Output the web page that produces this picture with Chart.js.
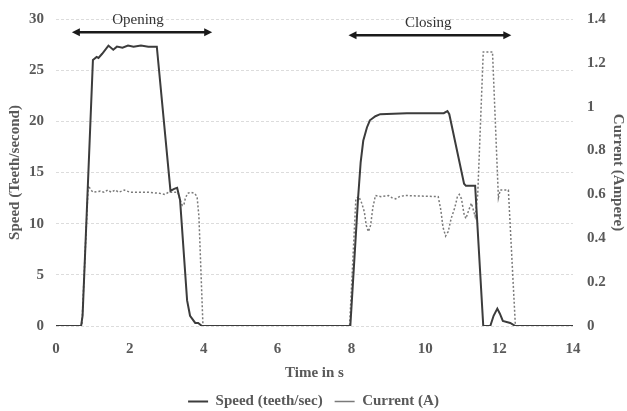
<!DOCTYPE html>
<html>
<head>
<meta charset="utf-8">
<script src="https://cdn.jsdelivr.net/npm/chart.js@4.4.0/dist/chart.umd.min.js"></script>
<style>
  html, body { margin: 0; padding: 0; background: #ffffff; }
  #wrap { width: 627px; height: 411px; }
</style>
</head>
<body>
<div id="wrap"><canvas id="motorChart" width="627" height="411"></canvas></div>
<script>
    'use strict';

    // Speed trace (teeth/sec)
    var speedTime = [0, 0.68, 0.72, 1.0, 1.1, 1.15, 1.25, 1.42, 1.55, 1.65, 1.8, 1.95, 2.1, 2.3, 2.5, 2.73,
        3.1, 3.2, 3.28, 3.36, 3.55, 3.63, 3.77, 3.85, 3.95, 7.97, 8.18, 8.25, 8.32, 8.42, 8.5, 8.65, 8.78,
        9.5, 10.5, 10.6, 10.65, 11.05, 11.1, 11.35, 11.57, 11.76, 11.85, 11.95, 12.02, 12.1, 12.3, 12.44, 14];
    var speedValues = [0, 0, 1, 26, 26.3, 26.2, 26.6, 27.4, 27.0, 27.3, 27.2, 27.4, 27.3, 27.4, 27.3, 27.3,
        13.2, 13.4, 13.5, 12.3, 2.5, 1.0, 0.3, 0.3, 0, 0, 12.5, 16, 18.1, 19.4, 20.1, 20.5, 20.7,
        20.8, 20.8, 21.0, 20.7, 13.9, 13.7, 13.7, 0, 0, 1, 1.7, 1.2, 0.5, 0.3, 0, 0];

    // Current trace (A)
    var currentTime = [0, 0.7, 0.87, 0.95, 1.0, 1.2, 1.3, 1.4, 1.5, 1.6, 1.7, 1.85, 2.0, 2.5, 2.8, 2.95,
        3.05, 3.3, 3.36, 3.42, 3.46, 3.5, 3.56, 3.65, 3.75, 3.82, 3.87, 3.98, 7.95, 8.12, 8.2, 8.28, 8.35,
        8.4, 8.46, 8.52, 8.58, 8.65, 8.8, 9.0, 9.1, 9.2, 9.3, 9.45, 10.35, 10.42, 10.48, 10.55, 10.62,
        10.7, 10.8, 10.87, 10.92, 10.98, 11.05, 11.1, 11.18, 11.25, 11.3, 11.35, 11.42, 11.57, 11.82,
        11.98, 12.03, 12.25, 12.44, 14];
    var currentValues = [0, 0, 0.64, 0.62, 0.61, 0.615, 0.61, 0.62, 0.61, 0.62, 0.61, 0.62, 0.61, 0.61, 0.605, 0.6,
        0.61, 0.61, 0.575, 0.55, 0.55, 0.58, 0.605, 0.61, 0.605, 0.59, 0.5, 0, 0, 0.58, 0.59, 0.56, 0.52,
        0.46, 0.43, 0.46, 0.54, 0.595, 0.59, 0.595, 0.585, 0.58, 0.59, 0.595, 0.59, 0.53, 0.45, 0.41, 0.43,
        0.49, 0.54, 0.59, 0.6, 0.58, 0.51, 0.49, 0.53, 0.56, 0.53, 0.5, 0.6, 1.25, 1.25,
        0.585, 0.62, 0.62, 0, 0];

    // Phase annotations: label, arrow start/end (s), arrow level and label position (speed units)
    var phaseLabels = ['Opening', 'Closing'];
    var phaseStart = [0.43, 7.92];
    var phaseEnd = [4.23, 12.33];
    var phaseArrowLevel = [28.7, 28.4];
    var phaseLabelX = [2.22, 10.08];
    var phaseLabelY = [29.9, 29.6];

    var greyText = '#595959';
    var serif = '"Liberation Serif", "Times New Roman", serif';

    function toPoints(xs, ys) {
        return xs.map(function (x, i) { return {x: x, y: ys[i]}; });
    }

    // Double-headed arrows with phase names
    var phaseArrows = {
        id: 'phaseArrows',
        afterDatasetsDraw: function (chart) {
            var ctx = chart.ctx;
            var xs = chart.scales.x;
            var ys = chart.scales.y;
            ctx.save();
            phaseLabels.forEach(function (name, i) {
                var x1 = xs.getPixelForValue(phaseStart[i]);
                var x2 = xs.getPixelForValue(phaseEnd[i]);
                var y = ys.getPixelForValue(phaseArrowLevel[i]);
                var head = 8;
                ctx.strokeStyle = '#1a1a1a';
                ctx.fillStyle = '#1a1a1a';
                ctx.lineWidth = 2.5;
                ctx.beginPath();
                ctx.moveTo(x1 + head - 2, y);
                ctx.lineTo(x2 - head + 2, y);
                ctx.stroke();
                ctx.beginPath();
                ctx.moveTo(x1, y);
                ctx.lineTo(x1 + head, y - 4);
                ctx.lineTo(x1 + head, y + 4);
                ctx.closePath();
                ctx.fill();
                ctx.beginPath();
                ctx.moveTo(x2, y);
                ctx.lineTo(x2 - head, y - 4);
                ctx.lineTo(x2 - head, y + 4);
                ctx.closePath();
                ctx.fill();

                ctx.font = '15px ' + serif;
                ctx.fillStyle = '#333333';
                ctx.textAlign = 'center';
                ctx.textBaseline = 'middle';
                ctx.fillText(name, xs.getPixelForValue(phaseLabelX[i]), ys.getPixelForValue(phaseLabelY[i]));
            });
            ctx.restore();
        }
    };

    var boldFont = {family: serif, size: 15, weight: 'bold'};

    // fixed widths for the value axes, and no extra room above the top tick
    function fitSide(width) {
        return function (scale) {
            scale.width = width;
            scale.paddingTop = 0;
        };
    }

    var chart = new Chart(document.getElementById('motorChart'), {
        type: 'line',
        data: {
            datasets: [{
                label: 'Speed (teeth/sec)',
                data: toPoints(speedTime, speedValues),
                yAxisID: 'y',
                borderColor: '#3c3c3c',
                backgroundColor: '#3c3c3c',
                borderWidth: 2,
                pointRadius: 0,
                tension: 0
            }, {
                label: 'Current (A)',
                data: toPoints(currentTime, currentValues),
                yAxisID: 'y1',
                borderColor: '#7a7a7a',
                backgroundColor: '#7a7a7a',
                borderWidth: 1.5,
                borderDash: [2, 2],
                pointRadius: 0,
                tension: 0
            }]
        },
        options: {
            responsive: false,
            animation: false,
            layout: {padding: {top: 19, left: 0, right: 0, bottom: -8}},
            scales: {
                x: {
                    type: 'linear',
                    min: 0,
                    max: 14,
                    afterFit: function (scale) { scale.height = 56; },
                    ticks: {stepSize: 2, padding: 14, color: greyText, font: boldFont},
                    grid: {display: false, drawTicks: false},
                    border: {display: false},
                    title: {display: true, text: 'Time in s', color: greyText, padding: {top: 0, bottom: 0}, font: boldFont}
                },
                y: {
                    position: 'left',
                    min: 0,
                    max: 30,
                    afterFit: fitSide(56),
                    ticks: {stepSize: 5, padding: 12, color: greyText, font: boldFont},
                    grid: {color: '#dcdcdc', drawTicks: false},
                    border: {display: false, dash: [3, 2]},
                    title: {display: true, text: 'Speed (Teeth/second)', color: greyText, padding: {top: 6, bottom: 0}, font: boldFont}
                },
                y1: {
                    position: 'right',
                    min: 0,
                    max: 1.4,
                    afterFit: fitSide(54),
                    ticks: {stepSize: 0.2, padding: 14, color: greyText, font: boldFont,
                        callback: function (v) { return Math.round(v * 10) / 10; }},
                    grid: {display: false, drawTicks: false},
                    border: {display: false},
                    title: {display: true, text: 'Current (Ampere)', color: greyText, padding: {top: 0, bottom: 2}, font: boldFont}
                }
            },
            plugins: {
                legend: {
                    position: 'bottom',
                    labels: {
                        usePointStyle: true,
                        pointStyle: 'line',
                        pointStyleWidth: 20,
                        padding: 12,
                        color: greyText,
                        font: boldFont
                    }
                },
                tooltip: {enabled: false}
            }
        },
        plugins: [phaseArrows]
    });
</script>
</body>
</html>
